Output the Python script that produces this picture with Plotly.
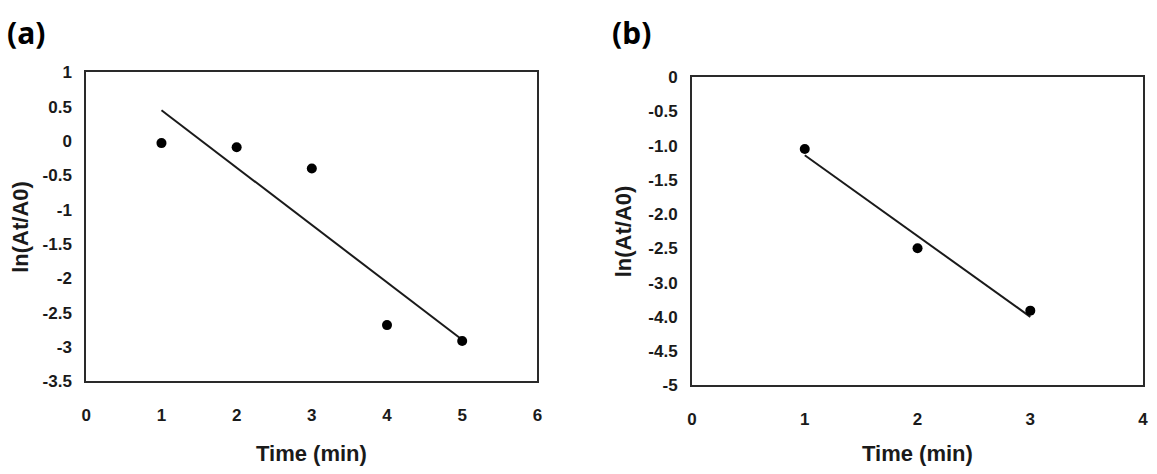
import numpy as np
import plotly.graph_objects as go

# ---- data ----
time_a = [1, 2, 3, 4, 5]
ln_a = [-0.03, -0.09, -0.40, -2.68, -2.91]

time_b = [1, 2, 3]
ln_b = [-1.05, -2.50, -3.41]

# tick labels
xticks_a = [0, 1, 2, 3, 4, 5, 6]
yticks_a = [1, 0.5, 0, -0.5, -1, -1.5, -2, -2.5, -3, -3.5]
yticktext_a = ["1", "0.5", "0", "-0.5", "-1", "-1.5", "-2", "-2.5", "-3", "-3.5"]

xticks_b = [0, 1, 2, 3, 4]
yticks_b = [0, -0.5, -1, -1.5, -2, -2.5, -3, -3.5, -4, -4.5]
yticktext_b = ["0", "-0.5", "-1.0", "-1.5", "-2.0", "-2.5", "-3.0", "-4.0", "-4.5", "-5"]

W, H = 1157, 474
INK = "#1a1a1a"
FONT = "Liberation Sans, Arial, sans-serif"


def fit(x, y):
    k, b = np.polyfit(x, y, 1)
    xs = np.array([min(x), max(x)], dtype=float)
    return xs, k * xs + b


fig = go.Figure()

for (tx, ty, xa, ya) in [(time_a, ln_a, "x", "y"), (time_b, ln_b, "x2", "y2")]:
    lx, ly = fit(tx, ty)
    fig.add_trace(go.Scatter(x=lx, y=ly, mode="lines", xaxis=xa, yaxis=ya,
                             line=dict(color=INK, width=2), showlegend=False,
                             hoverinfo="skip"))
    fig.add_trace(go.Scatter(x=tx, y=ty, mode="markers", xaxis=xa, yaxis=ya,
                             marker=dict(color="black", size=10), showlegend=False))


def px_x(p):
    return p / W


def px_y(p):
    return 1 - p / H


tickfont = dict(family=FONT, size=17, color=INK, weight="bold")
common = dict(showline=True, mirror=True, linewidth=2, linecolor="#2a2a2a",
              showgrid=False, zeroline=False, ticks="", tickfont=tickfont,
              fixedrange=True)

fig.update_layout(
    width=W, height=H,
    margin=dict(l=0, r=0, t=0, b=0),
    paper_bgcolor="white", plot_bgcolor="white",
    xaxis=dict(domain=[px_x(82), px_x(537)], range=[0, 6], anchor="y",
               tickvals=xticks_a, ticktext=[str(v) for v in xticks_a],
               ticklabelstandoff=17, **common),
    yaxis=dict(domain=[px_y(388), px_y(66)], range=[-3.5, 1], anchor="x",
               tickvals=yticks_a, ticktext=yticktext_a,
               ticklabelstandoff=9, **common),
    xaxis2=dict(domain=[px_x(693), px_x(1148)], range=[0, 4], anchor="y2",
                tickvals=xticks_b, ticktext=[str(v) for v in xticks_b],
                ticklabelstandoff=17, **common),
    yaxis2=dict(domain=[px_y(392), px_y(71)], range=[-4.5, 0], anchor="x2",
                tickvals=yticks_b, ticktext=yticktext_b,
                ticklabelstandoff=9, **common),
)

title_font = dict(family=FONT, size=22, color=INK, weight="bold")
panel_font = dict(family="Noto Sans, Open Sans, sans-serif", size=30, color="black", weight="bold")

annotations = [
    dict(text="Time (min)", x=px_x(309.5), y=px_y(463), font=title_font),
    dict(text="Time (min)", x=px_x(920.5), y=px_y(463), font=title_font),
    dict(text="ln(At/A0)", x=px_x(16), y=px_y(227), textangle=-90, font=title_font),
    dict(text="ln(At/A0)", x=px_x(624), y=px_y(232), textangle=-90, font=title_font),
    dict(text="(a)", x=px_x(0), y=px_y(24), xanchor="left", font=panel_font),
    dict(text="(b)", x=px_x(610), y=px_y(25), xanchor="left", font=panel_font),
]
for a in annotations:
    a.setdefault("xanchor", "center")
    a.setdefault("yanchor", "middle")
    fig.add_annotation(xref="paper", yref="paper", showarrow=False, **a)

fig.write_html("out.html")
